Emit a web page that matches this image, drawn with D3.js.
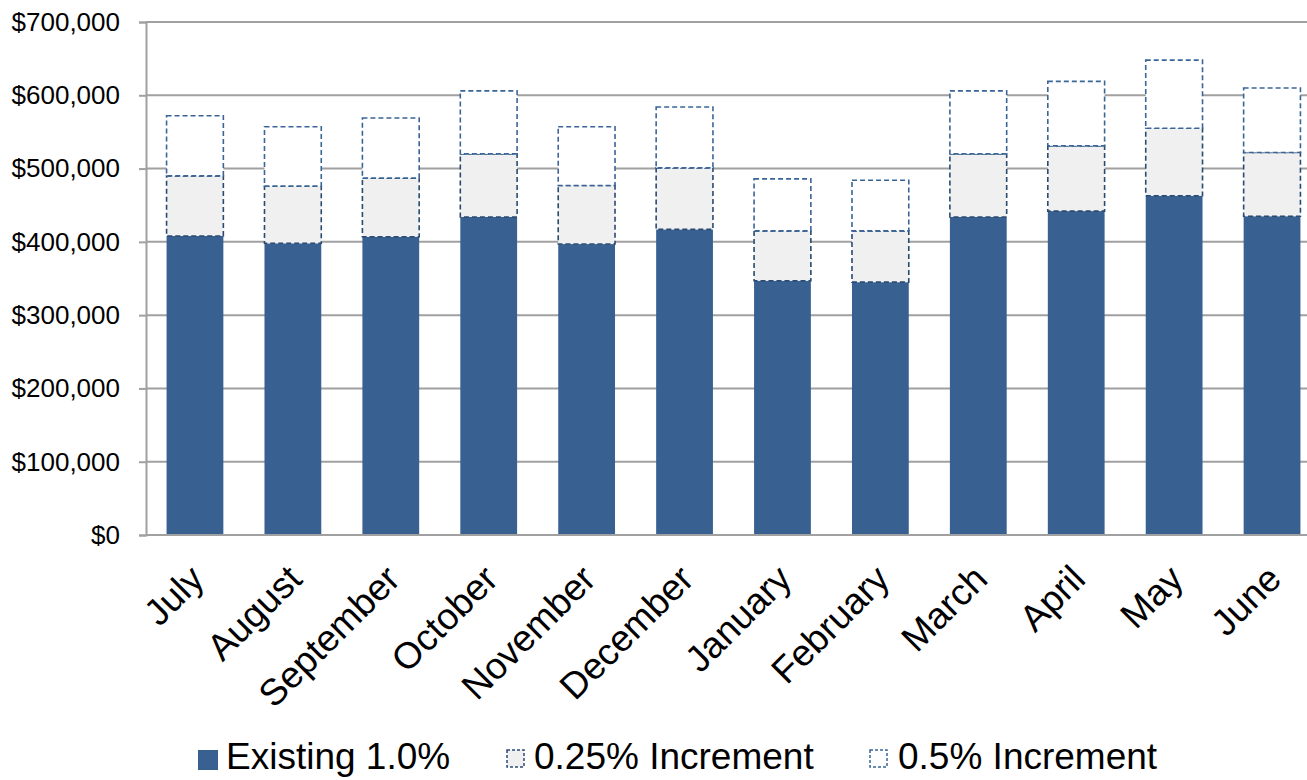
<!DOCTYPE html>
<html>
<head>
<meta charset="utf-8">
<script src="https://cdn.jsdelivr.net/npm/d3@7/dist/d3.min.js"></script>
<style>
  html, body { margin: 0; padding: 0; background: #fff; }
  svg { display: block; font-family: "Liberation Sans", Arial, sans-serif; }
</style>
</head>
<body>
<svg id="chart" width="1307" height="780"></svg>
<script>
// Monthly revenue, stacked: existing rate plus the two proposed increments
const months = ["July", "August", "September", "October", "November", "December",
                "January", "February", "March", "April", "May", "June"];
const existing = [408000, 398000, 407000, 434000, 397000, 417000, 347000, 345000, 434000, 442000, 463000, 435000];
const inc025   = [ 82000,  78000,  80000,  86000,  80000,  84000,  68000,  70000,  86000,  89000,  92000,  87000];
const inc050   = [ 82000,  81000,  82000,  86000,  80000,  83000,  71000,  69000,  86000,  88000,  93000,  88000];
const seriesNames = ["Existing 1.0%", "0.25% Increment", "0.5% Increment"];
const yTicks = [0, 100000, 200000, 300000, 400000, 500000, 600000, 700000];

const svg = d3.select("#chart");
const margin = { left: 146, right: -14, top: 22, bottom: 245 };
const W = 1307, H = 780;
const plotW = W - margin.left - margin.right;
const plotH = H - margin.top - margin.bottom;

const x = d3.scaleBand().domain(months).range([0, plotW]).paddingInner(0.42).paddingOuter(0.21);
const y = d3.scaleLinear().domain([0, 700000]).range([plotH, 0]);

const g = svg.append("g").attr("transform", `translate(${margin.left},${margin.top})`);

// Horizontal gridlines
g.append("g").selectAll("line").data(yTicks.slice(1)).join("line")
  .attr("x1", 0).attr("x2", plotW)
  .attr("y1", d => y(d)).attr("y2", d => y(d))
  .attr("stroke", "#a0a0a0").attr("stroke-width", 2);

// Y axis
const yAxis = g.append("g")
  .call(d3.axisLeft(y).tickValues(yTicks).tickSize(7).tickPadding(19)
    .tickFormat(d => "$" + d3.format(",")(d)));
yAxis.select(".domain").attr("stroke", "#a0a0a0").attr("stroke-width", 2);
yAxis.selectAll(".tick line").attr("stroke", "#a0a0a0").attr("stroke-width", 2);
yAxis.selectAll("text").attr("font-size", 26).attr("fill", "#000")
  .attr("font-family", "Liberation Sans, Arial, sans-serif");

// Stacked bars
const rows = months.map((m, i) => ({ month: m, a: existing[i], b: inc025[i], c: inc050[i] }));
const stack = d3.stack().keys(["a", "b", "c"])(rows);
const styles = [
  { fill: "#386192", stroke: "none", dash: null },
  { fill: "#f0f0f0", stroke: "#2b4a72", dash: "5,3" },
  { fill: "#ffffff", stroke: "#3a6598", dash: "5,3" }
];
stack.forEach((layer, li) => {
  g.append("g").selectAll("rect").data(layer).join("rect")
    .attr("x", d => x(d.data.month))
    .attr("width", x.bandwidth())
    .attr("y", d => y(d[1]))
    .attr("height", d => y(d[0]) - y(d[1]))
    .attr("fill", styles[li].fill)
    .attr("stroke", styles[li].stroke)
    .attr("stroke-width", li ? 1.6 : 0)
    .attr("stroke-dasharray", styles[li].dash);
});

// X axis baseline
g.append("line").attr("x1", 0).attr("x2", plotW).attr("y1", plotH).attr("y2", plotH)
  .attr("stroke", "#a0a0a0").attr("stroke-width", 2);

// Rotated month labels
g.append("g").selectAll("text").data(months).join("text")
  .attr("transform", d => `translate(${x(d) + x.bandwidth() / 2 + 2},${plotH + 37}) rotate(-45)`)
  .attr("text-anchor", "end")
  .attr("dy", "0.35em")
  .attr("font-size", 37)
  .attr("fill", "#000")
  .text(d => d);

// Legend
const legendItems = [
  { name: seriesNames[0], sx: 198, tx: 226, s: styles[0] },
  { name: seriesNames[1], sx: 507, tx: 534, s: styles[1] },
  { name: seriesNames[2], sx: 870, tx: 898, s: styles[2] }
];
const lg = svg.append("g");
legendItems.forEach(it => {
  lg.append("rect")
    .attr("x", it.sx).attr("y", 750)
    .attr("width", it.s.stroke === "none" ? 20 : 17)
    .attr("height", it.s.stroke === "none" ? 20 : 17)
    .attr("fill", it.s.fill)
    .attr("stroke", it.s.stroke)
    .attr("stroke-width", 1.5)
    .attr("stroke-dasharray", it.s.dash ? "3,2" : null);
  lg.append("text")
    .attr("x", it.tx).attr("y", 769)
    .attr("font-size", 37).attr("fill", "#000")
    .text(it.name);
});
</script>
</body>
</html>
